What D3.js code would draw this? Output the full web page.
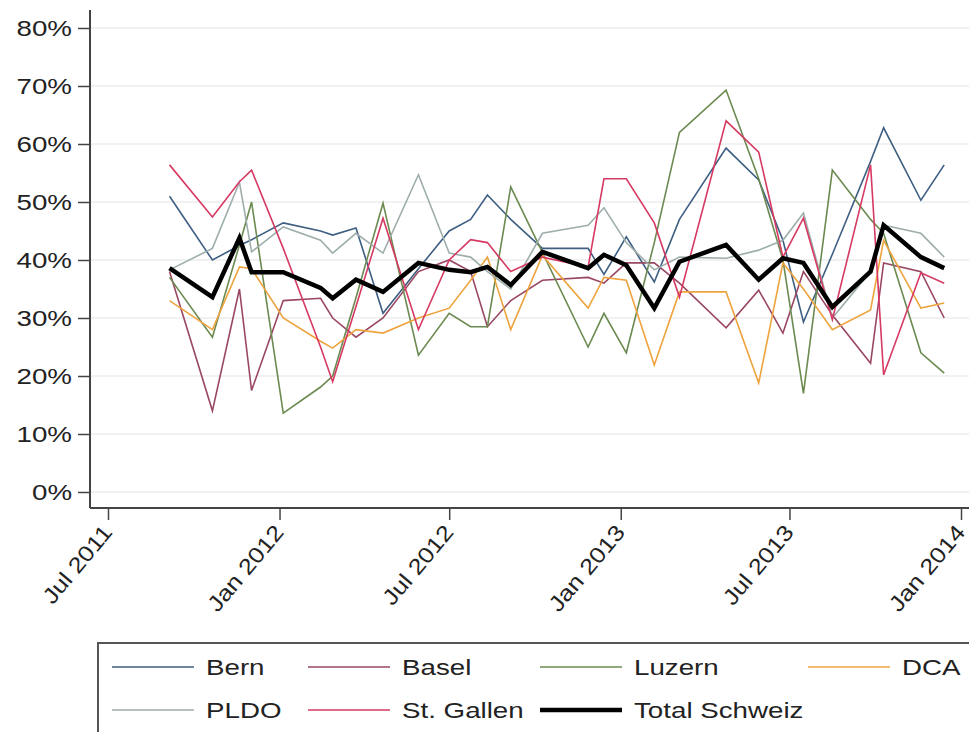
<!DOCTYPE html>
<html>
<head>
<meta charset="utf-8">
<title>Anteil pro Standort</title>
<script src="https://cdn.jsdelivr.net/npm/d3@7"></script>
<style>
  body { margin: 0; background: #fff; }
  text { font-family: "Liberation Sans", Arial, Helvetica, sans-serif; fill: #222; }
</style>
</head>
<body>
<svg id="chart" width="969" height="732"></svg>
<script>
// survey dates
const dates = ["2011-09-05","2011-10-21","2011-11-19","2011-12-02","2012-01-05","2012-02-14","2012-02-27",
  "2012-03-23","2012-04-21","2012-05-29","2012-07-01","2012-07-24","2012-08-11","2012-09-05","2012-10-09",
  "2012-11-27","2012-12-14","2013-01-07","2013-02-06","2013-03-05","2013-04-24","2013-05-29","2013-06-24",
  "2013-07-16","2013-08-16","2013-09-26","2013-10-10","2013-11-19","2013-12-14"];

// values in percent
const bern      = [51, 40, 42.5, 43.5, 46.4, 45, 44.3, 45.5, 30.8, 38.5, 45, 47, 51.2, 47, 42, 42, 37.5, 44, 36.2, 47, 59.3, 53.8, 43.4, 29.3, 41, 57, 62.8, 50.3, 56.4];
const basel     = [38, 14, 35, 17.5, 33, 33.4, 30, 26.7, 30, 38, 40, 38, 28.5, 33, 36.5, 37, 36, 39.5, 39.5, 36, 28.3, 34.8, 27.4, 38, 30.5, 22.2, 39.5, 38, 30];
const luzern    = [37, 26.7, 42.6, 50, 13.6, 18.1, 20, 33.5, 49.8, 23.6, 30.8, 28.5, 28.5, 52.6, 41.3, 25, 30.8, 24, 43, 62, 69.3, 54, 40, 17, 55.5, 47, 44.6, 24, 20.5];
const dca       = [33, 28, 38.8, 38.5, 30, 26, 24.8, 28, 27.4, 30, 31.7, 36.5, 40.5, 28, 40.8, 31.7, 37, 36.5, 21.9, 34.5, 34.5, 18.8, 39.5, 35, 28, 31.4, 43.4, 31.7, 32.6];
const pldo      = [38.3, 42, 53.4, 41.4, 45.7, 43.4, 41.2, 44.6, 41.2, 54.7, 41.2, 40.5, 38, 35, 44.6, 46, 49, 43, 38.3, 40.5, 40.3, 41.7, 43.4, 48.1, 30, 38, 46, 44.6, 40.5];
const stgallen  = [56.4, 47.4, 53.5, 55.5, 42, 25, 19, 32, 47.2, 28, 40, 43.5, 43, 38, 40.5, 38.8, 54, 54, 46.4, 33.6, 64, 58.6, 40.5, 47.2, 29.7, 56.4, 20.2, 37.8, 36];
const total     = [38.6, 33.6, 43.8, 37.9, 37.9, 35.2, 33.4, 36.6, 34.5, 39.5, 38.3, 37.9, 38.8, 35.7, 41.4, 38.6, 40.9, 39.1, 31.7, 39.7, 42.6, 36.6, 40.3, 39.5, 31.9, 38, 46, 40.5, 38.6];

const yTicks = [0, 10, 20, 30, 40, 50, 60, 70, 80];
const xTicks = ["2011-07-01","2012-01-01","2012-07-01","2013-01-01","2013-07-01","2014-01-01"];

const series = [
  { name: "Bern",          values: bern,     color: "#3e5f82", width: 1.6 },
  { name: "Basel",         values: basel,    color: "#9a4763", width: 1.6 },
  { name: "Luzern",        values: luzern,   color: "#6b8a50", width: 1.6 },
  { name: "DCA",           values: dca,      color: "#eea43e", width: 1.6 },
  { name: "PLDO",          values: pldo,     color: "#9eaeac", width: 1.6 },
  { name: "St. Gallen",    values: stgallen, color: "#d63a62", width: 1.6 },
  { name: "Total Schweiz", values: total,    color: "#000000", width: 4.5 }
];

const parse = d3.timeParse("%Y-%m-%d");
const svg = d3.select("#chart");

const plotLeft = 90, plotTop = 10, plotBottom = 508, plotRight = 985;
const stretch = 1.26;   // the text in the original is drawn wide

const x = d3.scaleTime()
  .domain([parse("2011-07-01"), parse("2014-01-01")])
  .range([108, 961]);
const y = d3.scaleLinear().domain([0, 80]).range([492, 28]);

// grid
svg.append("g").selectAll("line")
  .data(yTicks).enter().append("line")
  .attr("x1", plotLeft).attr("x2", plotRight)
  .attr("y1", d => y(d)).attr("y2", d => y(d))
  .attr("stroke", "#ececec").attr("stroke-width", 1.5);

// lines
const line = d3.line()
  .x((d, i) => x(parse(dates[i])))
  .y(d => y(d));

svg.append("g").selectAll("path")
  .data(series).enter().append("path")
  .attr("d", s => line(s.values))
  .attr("fill", "none")
  .attr("stroke", s => s.color)
  .attr("stroke-width", s => s.width)
  .attr("stroke-linejoin", "miter");

// y axis
const yAxis = d3.axisLeft(y)
  .tickValues(yTicks)
  .tickSize(12)
  .tickPadding(6)
  .tickFormat(d => d + "%");
const gy = svg.append("g").attr("transform", "translate(" + plotLeft + ",0)").call(yAxis);
gy.select(".domain").remove();
gy.selectAll(".tick line").attr("stroke", "#444").attr("stroke-width", 1.5);
gy.selectAll(".tick text")
  .attr("font-size", 22).attr("fill", "#222")
  .attr("x", -18 / stretch)
  .attr("transform", "scale(" + stretch + ",1)");
svg.append("line").attr("x1", plotLeft).attr("x2", plotLeft).attr("y1", plotTop).attr("y2", plotBottom)
  .attr("stroke", "#444").attr("stroke-width", 2);

// x axis
const xAxis = d3.axisBottom(x)
  .tickValues(xTicks.map(parse))
  .tickSize(12)
  .tickFormat(d3.timeFormat("%b %Y"));
const gx = svg.append("g").attr("transform", "translate(0," + plotBottom + ")").call(xAxis);
gx.select(".domain").remove();
gx.selectAll(".tick line").attr("stroke", "#444").attr("stroke-width", 1.5);
gx.selectAll(".tick text")
  .attr("font-size", 22).attr("fill", "#222")
  .attr("text-anchor", "end")
  .attr("dy", "0.35em")
  .attr("transform", "translate(-1,20) rotate(-50) scale(1.16,1)")
  .attr("y", 0).attr("x", 0);
svg.append("line").attr("x1", plotLeft).attr("x2", plotRight).attr("y1", plotBottom).attr("y2", plotBottom)
  .attr("stroke", "#444").attr("stroke-width", 2);

// legend
const legend = svg.append("g");
legend.append("rect")
  .attr("x", 98).attr("y", 643).attr("width", 900).attr("height", 110)
  .attr("fill", "#fff").attr("stroke", "#555").attr("stroke-width", 2);

const colX = [112, 308, 540, 808];
const rowY = [667, 710];
series.forEach((s, i) => {
  const r = Math.floor(i / 4), c = i % 4;
  const g = legend.append("g").attr("transform", "translate(" + colX[c] + "," + rowY[r] + ")");
  g.append("line").attr("x1", 0).attr("x2", 82).attr("y1", 0).attr("y2", 0)
    .attr("stroke", s.color).attr("stroke-width", s.width);
  g.append("text")
    .attr("transform", "translate(94,0) scale(" + stretch + ",1)")
    .attr("dy", "0.35em")
    .attr("font-size", 22).text(s.name);
});
</script>
</body>
</html>
